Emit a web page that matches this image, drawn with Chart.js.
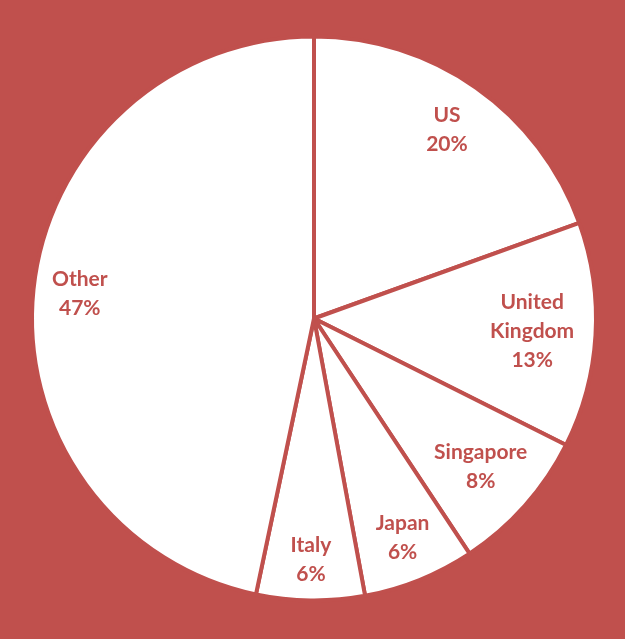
<!DOCTYPE html>
<html>
<head>
<meta charset="utf-8">
<script src="https://cdn.jsdelivr.net/npm/chart.js@4/dist/chart.umd.min.js"></script>
<style>
    html, body { margin: 0; padding: 0; background: #C0504D; }
    #wrap { width: 625px; height: 639px; }
</style>
</head>
<body>
<div id="wrap"><canvas id="share_canvas"></canvas></div>
<script>
const countries = ["US", ["United", "Kingdom"], "Singapore", "Japan", "Italy", "Other"];
const shares = [19.5, 12.9, 8.3, 6.4, 6.2, 46.7];

const red = "#C0504D";

// how far out (fraction of the radius) each slice's label sits
const label_radius = [0.82, 0.775, 0.79, 0.84, 0.855, 0.835];

// writes "name / pct%" inside every slice
const slice_labels = {
    id: "slice_labels",
    afterDatasetsDraw(chart) {
        const ctx = chart.ctx;
        const meta = chart.getDatasetMeta(0);
        ctx.save();
        ctx.fillStyle = red;
        ctx.font = "bold 21px Lato";
        ctx.textAlign = "center";
        ctx.textBaseline = "middle";
        meta.data.forEach(function(arc, i) {
            const mid = (arc.startAngle + arc.endAngle) / 2;
            const r = arc.outerRadius * label_radius[i];
            const x = arc.x + Math.cos(mid) * r;
            const y = arc.y + Math.sin(mid) * r;
            let lines = [].concat(countries[i]);
            lines.push(Math.round(shares[i]) + "%");
            const line_height = 29;
            const top = y - (lines.length - 1) * line_height / 2;
            lines.forEach(function(text, j) {
                ctx.fillText(text, x, top + j * line_height);
            });
        });
        ctx.restore();
    }
};

let config = {
    type: 'pie',
    data: {
        labels: countries,
        datasets: [{
            data: shares,
            backgroundColor: "#FFFFFF",
            borderColor: red,
            borderWidth: 4
        }]
    },
    options: {
        responsive: true,
        maintainAspectRatio: false,
        radius: 282,
        layout: {
            padding: {left: 3, right: 0, top: 0, bottom: 2}
        },
        plugins: {
            legend: {display: false},
            tooltip: {enabled: false}
        },
        animation: false
    },
    plugins: [slice_labels]
};

new Chart(document.getElementById('share_canvas'), config);
</script>
</body>
</html>
